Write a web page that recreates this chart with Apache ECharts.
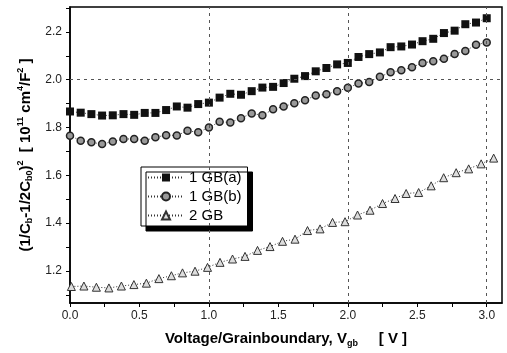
<!DOCTYPE html>
<html>
<head>
<meta charset="utf-8">
<script src="https://cdn.jsdelivr.net/npm/echarts@6/dist/echarts.min.js"></script>
<style>
  html, body { margin: 0; padding: 0; background: #fff; }
  #chart { width: 507px; height: 353px; }
</style>
</head>
<body>
<div id="chart"></div>
<script>
// voltage steps for the 1 GB runs (40 points, 0 .. 3 V)
const voltage1GB = [0, 0.077, 0.154, 0.231, 0.308, 0.385, 0.462, 0.538, 0.615, 0.692,
  0.769, 0.846, 0.923, 1.0, 1.077, 1.154, 1.231, 1.308, 1.385, 1.462,
  1.538, 1.615, 1.692, 1.769, 1.846, 1.923, 2.0, 2.077, 2.154, 2.231,
  2.308, 2.385, 2.462, 2.538, 2.615, 2.692, 2.769, 2.846, 2.923, 3.0];

const gb1a = [1.867, 1.862, 1.856, 1.850, 1.851, 1.856, 1.853, 1.861, 1.861, 1.873,
  1.888, 1.883, 1.898, 1.904, 1.925, 1.941, 1.937, 1.952, 1.967, 1.970,
  1.986, 2.004, 2.015, 2.035, 2.049, 2.064, 2.070, 2.095, 2.107, 2.114,
  2.136, 2.139, 2.147, 2.161, 2.171, 2.195, 2.205, 2.232, 2.239, 2.257];

const gb1b = [1.766, 1.745, 1.738, 1.731, 1.741, 1.752, 1.752, 1.745, 1.759, 1.768,
  1.767, 1.786, 1.780, 1.800, 1.824, 1.821, 1.839, 1.859, 1.851, 1.876,
  1.888, 1.901, 1.914, 1.934, 1.939, 1.952, 1.966, 1.984, 1.990, 2.012,
  2.031, 2.039, 2.052, 2.070, 2.077, 2.088, 2.107, 2.120, 2.146, 2.156];

// voltage steps for the 2 GB run (35 points)
const voltage2GB = [0.01, 0.10, 0.19, 0.28, 0.37, 0.46, 0.55, 0.64, 0.73, 0.81,
  0.90, 0.99, 1.08, 1.17, 1.26, 1.35, 1.44, 1.53, 1.62, 1.71,
  1.80, 1.89, 1.98, 2.07, 2.16, 2.25, 2.34, 2.42, 2.51, 2.60,
  2.69, 2.78, 2.87, 2.96, 3.05];

const gb2 = [1.135, 1.137, 1.132, 1.129, 1.137, 1.143, 1.149, 1.168, 1.180, 1.192,
  1.199, 1.215, 1.236, 1.250, 1.261, 1.286, 1.302, 1.324, 1.333, 1.369,
  1.376, 1.403, 1.406, 1.434, 1.454, 1.482, 1.503, 1.524, 1.528, 1.556,
  1.590, 1.611, 1.627, 1.648, 1.672];

const xLabels = [0, 0.5, 1.0, 1.5, 2.0, 2.5, 3.0];
const xTicks = [0, 0.25, 0.5, 0.75, 1.0, 1.25, 1.5, 1.75, 2.0, 2.25, 2.5, 2.75, 3.0];
const yLabels = [1.2, 1.4, 1.6, 1.8, 2.0, 2.2];
const yTicks = [1.1, 1.2, 1.3, 1.4, 1.5, 1.6, 1.7, 1.8, 1.9, 2.0, 2.1, 2.2, 2.3];
const gridX = [1.0, 2.0, 3.0];
const gridY = [2.0];

const zip = (xs, ys) => xs.map((x, i) => [x, ys[i]]);

const font = 'Liberation Sans, Arial, sans-serif';
const chart = echarts.init(document.getElementById('chart'));

const dotted = { type: [1, 2], width: 1, color: '#333' };

const titleRich = {
  b: { fontFamily: font, fontSize: 15, fontWeight: 'bold', color: '#000' },
  s: { fontFamily: font, fontSize: 9, fontWeight: 'bold', color: '#000', padding: [9, 0, 0, 0] },
  p: { fontFamily: font, fontSize: 9, fontWeight: 'bold', color: '#000', padding: [0, 0, 9, 0] }
};

chart.setOption({
  animation: false,
  backgroundColor: '#fff',
  grid: {
    left: 70, right: 5, top: 7, bottom: 48,
    show: true, borderColor: '#000', borderWidth: 1.5
  },
  legend: {
    left: 141, top: 167,
    orient: 'vertical',
    backgroundColor: '#fff',
    borderColor: '#000',
    borderWidth: 1,
    padding: [3, 6, 3, 6],
    itemWidth: 36, itemHeight: 10, itemGap: 4,
    shadowColor: '#000', shadowBlur: 0, shadowOffsetX: 5, shadowOffsetY: 5,
    textStyle: { fontFamily: font, fontSize: 15, lineHeight: 15, color: '#000' },
    data: ['1 GB(a)', '1 GB(b)', '2 GB']
  },
  xAxis: {
    type: 'value',
    min: 0, max: 3.11,
    name: '{b|Voltage/Grainboundary, V}{s|gb}{b|     [ V ]}',
    nameLocation: 'middle',
    nameGap: 27,
    nameTextStyle: { rich: titleRich },
    axisLine: { lineStyle: { color: '#000', width: 1.5 } },
    axisTick: { customValues: xTicks, length: 4, lineStyle: { color: '#000' } },
    axisLabel: {
      customValues: xLabels, margin: 7,
      fontFamily: font, fontSize: 12, color: '#222',
      formatter: v => v.toFixed(1)
    },
    splitLine: { show: false }
  },
  yAxis: {
    type: 'value',
    min: 1.066, max: 2.304,
    name: '{b|(1/C}{s|b}{b|-1/2C}{s|b0}{b|)}{p|2}{b|  [ 10}{p|11}{b| cm}{p|4}{b|/F}{p|2}{b| ]}',
    nameLocation: 'middle',
    nameGap: 28,
    nameRotate: 90,
    nameTextStyle: { rich: titleRich },
    axisLine: { lineStyle: { color: '#000', width: 1.5 } },
    axisTick: { customValues: yTicks, length: 4, lineStyle: { color: '#000' } },
    axisLabel: {
      customValues: yLabels, margin: 8,
      fontFamily: font, fontSize: 12, color: '#222',
      formatter: v => v.toFixed(1)
    },
    splitLine: { show: false }
  },
  series: [
    {
      name: '1 GB(a)',
      type: 'line',
      data: zip(voltage1GB, gb1a),
      symbol: 'rect',
      symbolSize: 8,
      itemStyle: { color: '#111' },
      lineStyle: dotted,
      z: 3,
      markLine: {
        silent: true,
        symbol: 'none',
        label: { show: false },
        lineStyle: { type: [3, 4], color: '#555', width: 1 },
        data: gridX.map(x => ({ xAxis: x })).concat(gridY.map(y => ({ yAxis: y })))
      }
    },
    {
      name: '1 GB(b)',
      type: 'line',
      data: zip(voltage1GB, gb1b),
      symbol: 'circle',
      symbolSize: 7,
      itemStyle: { color: '#999', borderColor: '#222', borderWidth: 1.5 },
      lineStyle: dotted,
      z: 3
    },
    {
      name: '2 GB',
      type: 'line',
      data: zip(voltage2GB, gb2),
      symbol: 'triangle',
      symbolSize: 8,
      itemStyle: { color: '#ddd', borderColor: '#333', borderWidth: 1 },
      lineStyle: dotted,
      z: 3
    }
  ]
});

window.addEventListener('resize', () => chart.resize());
</script>
</body>
</html>
